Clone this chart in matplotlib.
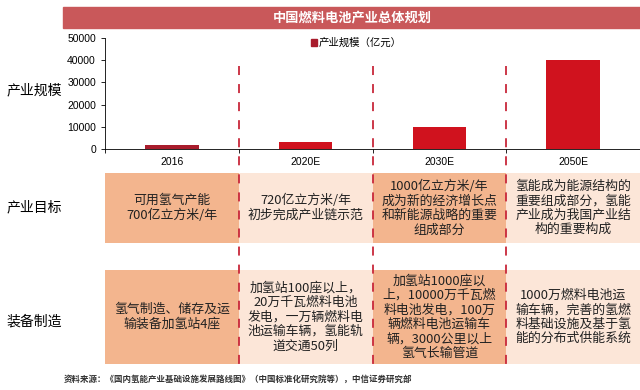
import numpy as np
import matplotlib.pyplot as plt
from matplotlib.patches import Rectangle

plt.rcParams['font.family'] = ['Noto Sans CJK SC', 'DejaVu Sans']

title = '中国燃料电池产业总体规划'
years = ['2016', '2020E', '2030E', '2050E']
scale = [1800, 3000, 10000, 40000]
legend_label = '产业规模（亿元）'
row_labels = ['产业规模', '产业目标', '装备制造']
goals = ['可用氢气产能\n700亿立方米/年',
         '720亿立方米/年\n初步完成产业链示范',
         '1000亿立方米/年\n成为新的经济增长点\n和新能源战略的重要\n组成部分',
         '氢能成为能源结构的\n重要组成部分，氢能\n产业成为我国产业结\n构的重要构成']
equipment = ['氢气制造、储存及运\n输装备加氢站4座',
             '加氢站100座以上，\n20万千瓦燃料电池\n发电，一万辆燃料电\n池运输车辆，氢能轨\n道交通50列',
             '加氢站1000座以\n上，10000万千瓦燃\n料电池发电，100万\n辆燃料电池运输车\n辆，3000公里以上\n氢气长输管道',
             '1000万燃料电池运\n输车辆，完善的氢燃\n料基础设施及基于氢\n能的分布式供能系统']
source = '资料来源：《国内氢能产业基础设施发展路线图》（中国标准化研究院等），中信证券研究部'

W, H = 640, 390
peach = '#f3b58e'
light = '#fce6d8'
red = '#d0121e'
dark_red = '#a81c2c'
box_colors = [peach, light, peach, light]
num_font = ['Liberation Sans', 'DejaVu Sans']

fig = plt.figure(figsize=(6.4, 3.9), dpi=100)

def fx(px):
    return px / W

def fy(py):
    return 1 - py / H

# title bar
fig.patches.append(Rectangle((fx(63), fy(28)), fx(640) - fx(63), fy(7) - fy(28),
                             transform=fig.transFigure, color='#c9585a', zorder=0))
fig.text(fx(352), fy(17.5), title, color='white', fontsize=9.5, fontweight='bold',
         ha='center', va='center')

# bar chart
ax = fig.add_axes([fx(105), fy(149), fx(640) - fx(105), fy(38) - fy(149)])
x = np.arange(len(years))
cols = [dark_red] + [red] * (len(years) - 1)
ax.bar(x, scale, width=0.4, color=cols)
ax.set_xlim(-0.5, 3.5)
ax.set_ylim(0, 50000)
ax.set_yticks(np.arange(0, 50001, 10000))
ax.set_xticks(x)
ax.set_xticklabels(years)
ax.set_xticks(np.arange(-0.5, 3.6, 1), minor=True)
ax.tick_params(axis='x', which='major', length=0, labelsize=7.5, pad=6)
ax.tick_params(axis='x', which='minor', length=3, width=0.6, direction='out')
ax.tick_params(axis='y', labelsize=7.5, length=3, width=0.6)
for lab in ax.get_xticklabels() + ax.get_yticklabels():
    lab.set_family(num_font)
for s in ['top', 'right']:
    ax.spines[s].set_visible(False)
for s in ['left', 'bottom']:
    ax.spines[s].set_linewidth(0.6)
ax.patch.set_alpha(0)

fig.patches.append(Rectangle((fx(311), fy(45.5)), fx(6), fy(40) - fy(46),
                             transform=fig.transFigure, color=dark_red))
fig.text(fx(319), fy(42.5), legend_label, fontsize=7.5, ha='left', va='center')

# overlay for table rows
ov = fig.add_axes([fx(105), 0, fx(640) - fx(105), 1])
ov.set_xlim(-0.5, 3.5)
ov.set_ylim(H, 0)
ov.axis('off')
ov.patch.set_alpha(0)

rows = [(goals, 173, 243), (equipment, 270, 364)]
for texts, top, bot in rows:
    for i, t in enumerate(texts):
        ov.add_patch(Rectangle((i - 0.5, top), 1, bot - top, color=box_colors[i], lw=0, zorder=1))
        ov.text(i, (top + bot) / 2, t, ha='center', va='center', fontsize=9.3,
                fontweight='medium', linespacing=1.15, color='#222222', zorder=3)

for b in [0.5, 1.5, 2.5]:
    ov.plot([b, b], [66, 364], color='#c8283a', lw=1.3, ls=(0, (5, 5)), zorder=2)

for lab, yy in zip(row_labels, [90, 207, 322]):
    fig.text(fx(34), fy(yy), lab, fontsize=10, fontweight='medium', ha='center', va='center')

fig.text(fx(64), fy(379), source, fontsize=6.1, fontweight='bold', ha='left',
         va='center', color='#333333')

fig.savefig('out.png', dpi=100)
